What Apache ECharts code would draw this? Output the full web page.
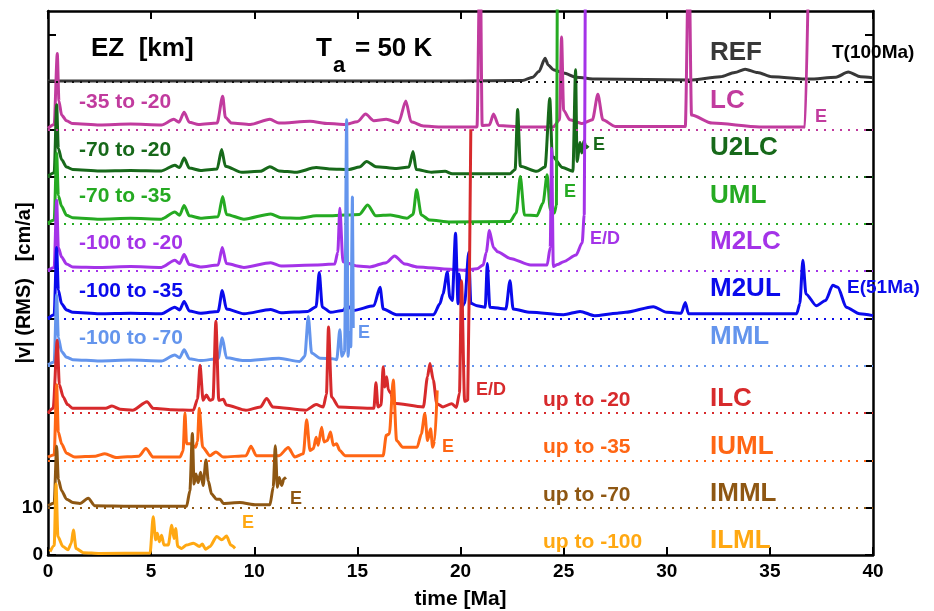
<!DOCTYPE html>
<html>
<head>
<meta charset="utf-8">
<script src="https://cdn.jsdelivr.net/npm/echarts@6/dist/echarts.min.js"></script>
<style>
html, body { margin: 0; padding: 0; background: #fff; }
#main { width: 934px; height: 611px; }
</style>
</head>
<body>
<div id="main"></div>
<script>
// curves from top to bottom, each drawn on its own baseline
var names = ['REF', 'LC', 'U2LC', 'UML', 'M2LC', 'M2UL', 'MML', 'ILC', 'IUML', 'IMML', 'ILML'];
var baselines = [100, 90, 80, 70, 60, 50, 40, 30, 20, 10, 0];
var depthLabels = ['', '-35 to -20', '-70 to -20', '-70 to -35', '-100 to -20', '-100 to -35', '-100 to -70',
                   'up to -20', 'up to -35', 'up to -70', 'up to -100'];
var endLabels = ['', 'E', 'E', 'E', 'E/D', 'E(51Ma)', 'E', 'E/D', 'E', 'E', 'E'];
var xTicks = [0, 5, 10, 15, 20, 25, 30, 35, 40];
var yTicks = [0, 10, 20, 30, 40, 50, 60, 70, 80, 90, 100, 110];
var yTickLabels = [0, 10];

// [time (Ma), |v| above the curve's baseline]
var refData = [[0,0.2],[10,0.2],[20,0.2],[23.0,0.3],[23.5,1],[23.8,2.2],[24.1,5],[24.25,3.6],[24.5,2.6],[25,1.9],[25.6,1],
  [26.6,0.6],[29,0.5],[31.1,0.4],[32.6,1.1],[33.3,2],[33.8,2.7],[34.4,2],[35.1,1.1],[36.9,0.6],[38.2,1],[38.8,2.1],
  [39.4,1.1],[40,0.9]];
var lcData = [[0,0.2],[0.3,1],[0.45,16],[0.53,6],[0.66,3],[0.9,1.8],[1.2,1.2],[2.5,0.9],[4,1.1],[5.5,0.9],[6.1,2.1],
  [6.35,1.5],[6.6,3.6],[6.85,1.5],[7.3,1],[8.2,1.3],[8.47,7],[8.6,2.5],[8.9,1.3],[9.8,1],[10.76,2.1],[11.2,1.3],
  [12.7,1.7],[13.6,1.2],[14.4,1],[15.0,1.6],[15.4,3.2],[15.8,1.8],[16.4,2.1],[17.0,1.4],[17.35,6],[17.6,1.6],
  [18.2,0.7],[19,0.5],[20.8,0.5],[20.95,40],[21.05,0.8],[21.4,0.9],[21.6,3.2],[21.85,0.8],[23,0.5],[24.5,0.5],
  [24.8,2],[24.9,19.5],[25.0,4],[25.3,2],[25.9,1.2],[26.4,2],[26.66,7.4],[26.9,2],[27.5,0.6],[30.9,0.6],[31.07,40],
  [31.2,3],[32.2,1.3],[34.5,0.5],[36.7,0.5],[36.9,40]];
var u2lcData = [[0,0.1],[0.3,0.8],[0.42,15.2],[0.5,6],[0.66,3.6],[0.9,2],[1.2,1.5],[2.5,1.2],[4,1.3],[5.5,1.2],
  [6.15,2.4],[6.38,1.9],[6.6,3.9],[6.85,1.8],[7.4,1.3],[8.2,1.6],[8.42,5.7],[8.6,2.2],[9.4,0.9],[10.3,1.1],
  [10.76,2.1],[11.2,1.2],[12.0,0.9],[13.0,1.9],[13.7,1.6],[14.6,1.5],[15.1,2],[15.45,3.2],[15.9,2.1],[16.9,1.7],
  [17.5,2],[17.7,5.3],[17.85,1.5],[18.6,0.9],[19.25,1.1],[19.6,0.6],[22.4,0.6],[22.65,1.5],[22.77,14.2],[22.9,2.2],
  [23.7,1.1],[24.1,2],[24.33,16.5],[24.45,4.3],[24.95,1.9],[25.45,1.1],[25.58,22.6],[25.65,3.2],[25.8,7.2],
  [25.88,5],[25.98,7.5],[26.1,6.1],[26.2,6.5]];
var umlData = [[0,0.2],[0.3,0.8],[0.42,15],[0.5,6],[0.66,3.7],[0.9,1.8],[1.2,1.3],[2.5,1],[4,1.2],[5.5,1],[6.15,2.5],
  [6.38,1.8],[6.6,3.9],[6.85,1.7],[7.4,1.2],[8.25,1.5],[8.47,5.8],[8.65,2],[9.5,1],[10.8,2.1],[11.3,1.3],[12.2,1.2],
  [13.0,1.7],[13.7,1.7],[15.1,2],[15.5,4],[15.9,1.7],[16.6,1.9],[17.4,1.2],[17.7,2],[17.87,7.2],[18.1,1.9],
  [18.5,0.8],[19.5,0.4],[22.4,0.5],[22.7,2.3],[22.9,10],[23.1,1.9],[23.7,1.7],[24.0,4.4],[24.2,10.4],[24.35,3],
  [24.55,2.3],[24.65,4],[24.7,60]];
var m2lcData = [[0,0.2],[0.3,0.8],[0.42,15],[0.5,5],[0.66,3],[0.9,1.5],[1.2,0.9],[2.5,0.8],[4,1],[5.5,0.8],[6.15,2.3],
  [6.38,1.6],[6.6,3.5],[6.85,1.4],[7.4,0.9],[8.25,1.3],[8.45,5],[8.65,1.6],[9.5,0.8],[10.8,1.8],[11.3,1.1],[13.0,1.3],
  [13.9,1.5],[14.05,4],[14.15,13.3],[14.3,2],[15,1.1],[15.6,0.9],[16.4,1.8],[16.8,3.2],[17.3,1.5],[17.9,0.9],
  [19.5,0.4],[20.1,0.2],[20.8,0.5],[21.1,1.3],[21.25,4],[21.4,8.6],[21.6,5],[21.8,4.1],[22.4,2.7],[23.4,1.3],
  [24.2,1.3],[24.35,5],[24.42,26],[24.5,1],[24.7,1.4],[25.0,2],[25.6,3.4],[25.9,6],[26.0,12],[26.05,60]];
var m2ulData = [[0,0],[0.3,0.8],[0.42,15],[0.5,6],[0.66,3.1],[0.9,1.8],[1.2,1.3],[2.5,1],[4,1.1],[5.5,1],[6.15,2.4],
  [6.38,1.8],[6.6,3.6],[6.85,1.6],[7.4,1.1],[8.25,1.5],[8.45,5.9],[8.65,2],[9.5,1],[10.8,1.9],[11.3,1.2],[12.6,1.5],
  [13.0,2.5],[13.15,9.7],[13.3,2.4],[13.7,1.3],[14.3,1.7],[14.5,2.7],[14.8,1.7],[15.8,2.7],[16.1,6.6],[16.25,2],
  [16.9,0.8],[18.7,0.8],[19.0,3.1],[19.15,5.2],[19.36,9.8],[19.48,4.5],[19.6,3.8],[19.76,18],[19.88,3.1],[19.93,9.4],
  [20.05,2.4],[20.2,3.2],[20.4,14],[20.5,3.2],[20.8,2.7],[21.2,2.4],[21.3,11.6],[21.42,2.4],[22.2,2],[22.4,8],
  [22.55,2],[23.4,1.3],[25,0.8],[25.8,1.5],[26.5,0.6],[27.6,1.1],[28,1.3],[29.35,2.5],[30,1.3],[30.7,1.1],[30.9,3.4],
  [31.05,1],[36.3,1],[36.45,3.1],[36.6,12.3],[36.75,5.2],[37.25,2.7],[37.7,3.8],[38.05,7],[38.3,6.6],[38.7,2.4],
  [39.35,1],[40,0.6]];
var mmlData = [[0,0.2],[0.3,0.8],[0.42,15],[0.5,6],[0.66,3],[0.9,1.8],[1.2,1.3],[2.5,1],[4,1.2],[5.5,1],[6.15,2.3],
  [6.38,1.7],[6.6,3.4],[6.85,1.5],[7.4,1.1],[8.25,1.5],[8.45,5.9],[8.65,1.7],[9.5,1.1],[11.2,1.6],[12.2,0.9],
  [12.45,2],[12.62,10.4],[12.78,2.7],[13.2,1.6],[13.8,1.5],[14.0,1.3],[14.15,7.6],[14.25,2],[14.38,3],[14.48,52],
  [14.55,2],[14.62,7],[14.68,4],[14.76,35.7],[14.8,8]];
var ilcData = [[0,0],[0.25,1],[0.45,15.4],[0.55,6],[0.74,3.4],[0.95,1.8],[1.2,1],[2.8,1],[3.1,1.5],[3.5,0.8],[4.1,0.6],
  [4.8,2.4],[5.1,1],[6,0.7],[7.05,0.6],[7.25,3],[7.37,10.1],[7.52,2.7],[7.68,3.8],[7.85,2.7],[8.0,2.9],[8.14,19.4],
  [8.28,2.7],[8.5,2.9],[8.65,1.7],[9.6,0.6],[10.3,1.3],[10.6,3.1],[10.9,1.3],[12.5,0.6],[13.0,1.8],[13.35,1.3],
  [13.5,4],[13.6,18.2],[13.75,3.4],[14.1,1.3],[15.8,1],[15.9,6.4],[16.0,1.3],[16.15,1.7],[16.25,9.8],[16.33,5.5],
  [16.42,7.7],[16.5,4.9],[16.62,4.2],[16.75,2.1],[18.2,1.3],[18.4,7.7],[18.52,10.5],[18.68,7],[18.85,2],[19.15,1.3],
  [19.57,2],[19.8,1.2],[19.95,4.2],[20.05,28],[20.2,2.5],[20.35,2.7],[20.5,60]];
var iumlData = [[0,0.7],[0.3,1.2],[0.42,16],[0.5,6],[0.66,3.5],[0.9,1.5],[1.3,0.7],[2.3,0.9],[2.76,1.4],[3.3,0.6],
  [4.4,0.9],[4.75,2.5],[5.1,0.7],[6.4,0.7],[6.55,2],[6.64,10],[6.72,3.5],[6.9,3.5],[7.15,2.8],[7.25,4],[7.33,11],
  [7.5,2.8],[7.85,1],[8.14,1.8],[8.5,0.7],[9.6,1],[9.84,3],[10.1,1],[11.2,1],[11.65,2.7],[11.97,0.7],[12.38,1.4],
  [12.54,8.6],[12.7,2.1],[12.87,2.5],[13.0,4.9],[13.1,3.2],[13.27,7],[13.38,3.9],[13.54,4.2],[13.7,6],[13.83,3.2],
  [13.99,3.5],[14.15,2.1],[14.4,1],[16.25,1],[16.4,5.3],[16.55,5.6],[16.74,17],[16.9,4.2],[17.2,2.8],[17.9,2.8],
  [18.1,5.6],[18.27,9.9],[18.4,4.2],[18.55,6.7],[18.65,2.8],[18.75,4.2],[18.87,14.8]];
var immlData = [[0,0.4],[0.3,1],[0.42,13],[0.5,6],[0.66,3.6],[0.9,1.8],[1.2,1.1],[1.55,0.9],[1.95,2],[2.27,0.4],[4,0.3],
  [6.72,0.3],[6.88,3.6],[7.0,15.7],[7.08,5],[7.17,7.1],[7.28,5.3],[7.4,7.5],[7.52,4.7],[7.66,10.1],[7.77,5.7],
  [7.93,2.9],[8.17,1.8],[8.34,1.8],[8.5,0.9],[9.3,1.1],[10.1,0.6],[10.76,0.6],[10.92,4.3],[11.02,13.1],[11.12,4.3],
  [11.21,6.4],[11.33,4.7],[11.44,6.1],[11.54,6.4]];
var ilmlData = [[0.1,0.7],[0.3,2],[0.39,15],[0.48,3.9],[0.72,1.8],[0.97,1.1],[1.13,2.5],[1.23,5.3],[1.36,1.4],
  [1.71,0.5],[2.5,0.3],[4.95,0.4],[5.1,8.1],[5.22,3.2],[5.3,4.6],[5.4,2.8],[5.51,4.2],[5.62,2.1],[5.83,2.1],[6.0,6.3],
  [6.11,3.5],[6.19,5.6],[6.29,1.8],[6.48,1.4],[6.72,2.1],[7.05,2.5],[7.34,1.8],[7.48,2.3],[7.64,1.2],[7.85,1.8],
  [8.18,3.9],[8.42,3.2],[8.66,4],[8.86,2.1],[9.07,1.4]];

var curves = [refData, lcData, u2lcData, umlData, m2lcData, m2ulData, mmlData, ilcData, iumlData, immlData, ilmlData];
var colors = ['#383838', '#c13b9e', '#17691a', '#25aa22', '#a433e8', '#0a0aec', '#6495ed', '#d72a2c', '#ff6614',
              '#8e5713', '#ffa812'];

var FONT = '"Liberation Sans", Arial, sans-serif';

function txt(x, y, s, size, color, rot) {
  return {
    type: 'text', x: x, y: y, rotation: rot || 0, silent: true, z: 100,
    style: { text: s, fill: color, font: 'bold ' + size + 'px ' + FONT,
             textAlign: rot ? 'center' : 'left', textVerticalAlign: 'middle',
             align: rot ? 'center' : 'left', verticalAlign: 'middle' }
  };
}

// label positions (px), one per curve
var nameY = [53, 101, 148, 196, 242, 289, 337, 399, 447, 494, 541];
var depthPos = [null, [79,102], [79,150], [79,196], [79,243], [79,291], [79,338], [543,400], [543,447], [543,495], [543,542]];
var endPos = [null, [815,117], [593,145], [564,192], [590,239], [847,288], [358,333], [476,390], [442,447], [290,499], [242,523]];

var graphics = [
  txt(91, 49, 'EZ  [km]', 26, '#000'),
  txt(316, 49, 'T', 26, '#000'),
  txt(333, 66, 'a', 22, '#000'),
  txt(355, 49, '= 50 K', 26, '#000'),
  txt(832, 53, 'T(100Ma)', 19, '#000'),
  txt(24, 283, '|v| (RMS)   [cm/a]', 20, '#000', Math.PI / 2)
];
names.forEach(function (n, i) {
  graphics.push(txt(710, nameY[i], n, 26, colors[i]));
  if (depthPos[i]) graphics.push(txt(depthPos[i][0], depthPos[i][1], depthLabels[i], 21, colors[i]));
  if (endPos[i]) graphics.push(txt(endPos[i][0], endPos[i][1], endLabels[i], i === 5 ? 19 : 18, colors[i]));
});

var series = names.map(function (n, i) {
  var base = baselines[i];
  var s = {
    name: n,
    type: 'line',
    data: curves[i].map(function (p) { return [p[0], p[1] + base]; }),
    showSymbol: false,
    smooth: 0.25,
    smoothMonotone: 'x',
    clip: true,
    lineStyle: { color: colors[i], width: 3 },
    z: 2 + i
  };
  if (base > 0) {
    s.markLine = {
      silent: true, symbol: 'none', label: { show: false },
      lineStyle: { type: [2, 6], width: 2, color: i === 0 ? '#111' : colors[i] },
      data: [{ yAxis: base }]
    };
  }
  return s;
});

// onZero off so the mirrored top/right axes stay on the frame
var axisLine = { onZero: false, lineStyle: { color: '#000', width: 2.5 } };
var xTick = { inside: true, length: 8, lineStyle: { color: '#000', width: 2 } };
var yTick = { inside: true, length: 8, lineStyle: { color: '#000', width: 2 }, customValues: yTicks };

var option = {
  animation: false,
  backgroundColor: '#fff',
  grid: { left: 48, right: 61, top: 11, bottom: 56, containLabel: false, outerBoundsMode: 'none' },
  xAxis: [{
    type: 'value', min: xTicks[0], max: xTicks[xTicks.length - 1], interval: 5, position: 'bottom',
    axisLine: axisLine, axisTick: xTick, splitLine: { show: false },
    axisLabel: { fontSize: 19, fontWeight: 'bold', color: '#000', fontFamily: FONT, margin: 7 },
    name: 'time [Ma]', nameLocation: 'middle', nameGap: 34, nameMoveOverlap: false,
    nameTextStyle: { fontSize: 21, fontWeight: 'bold', color: '#000', fontFamily: FONT }
  }, {
    type: 'value', min: 0, max: 40, interval: 5, position: 'top',
    axisLine: axisLine, axisTick: xTick, axisLabel: { show: false }, splitLine: { show: false }
  }],
  yAxis: [{
    type: 'value', min: 0, max: 115, position: 'left',
    axisLine: axisLine, axisTick: yTick, splitLine: { show: false },
    axisLabel: {
      fontSize: 19, fontWeight: 'bold', color: '#000', fontFamily: FONT, margin: 5,
      customValues: yTickLabels
    }
  }, {
    type: 'value', min: 0, max: 115, position: 'right',
    axisLine: axisLine, axisTick: yTick, axisLabel: { show: false }, splitLine: { show: false }
  }],
  graphic: graphics,
  series: series
};

var myChart = echarts.init(document.getElementById('main'));
myChart.setOption(option);
</script>
</body>
</html>
